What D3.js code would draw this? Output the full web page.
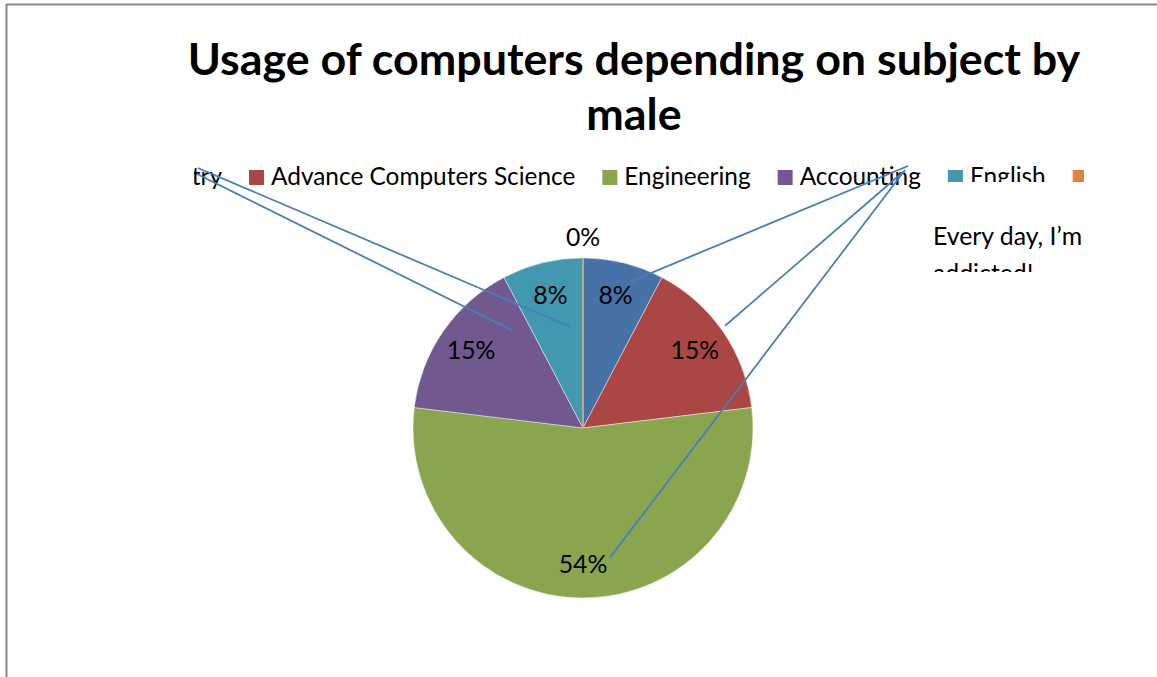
<!DOCTYPE html>
<html>
<head>
<meta charset="utf-8">
<script src="https://cdn.jsdelivr.net/npm/d3@7"></script>
<style>
  html, body { margin: 0; padding: 0; background: #fff; }
  svg { display: block; }
  text { font-family: Lato, "Open Sans", sans-serif; fill: #000; }
</style>
</head>
<body>
<svg id="chart" width="1157" height="677"></svg>
<script>
// Survey counts: how many male students use computers, by subject
const categories = ["Chemistry", "Advance Computers Science", "Engineering", "Accounting", "English", "Art"];
const counts = [1, 2, 7, 2, 1, 0];
const colors = ["#4672A7", "#AA4643", "#89A54E", "#71588F", "#4198AF", "#DB843D"];
const titleLines = ["Usage of computers depending on subject by", "male"];
const noteLines = ["Every day, I\u2019m", "addicted!"];

const W = 1157, H = 677;
const svg = d3.select("#chart");

// Layout
const cx = 583, cy = 428, R = 170;
const labelFont = 24.8, legendFont = 24.4, titleFont = 44.8;

// chart frame (top and left edges visible)
svg.append("line").attr("x1", 6).attr("x2", W).attr("y1", 4.5).attr("y2", 4.5)
  .attr("stroke", "#888").attr("stroke-width", 2);
svg.append("line").attr("x1", 6.5).attr("x2", 6.5).attr("y1", 4).attr("y2", H)
  .attr("stroke", "#888").attr("stroke-width", 2);

// title
svg.append("text")
  .attr("x", 634).attr("text-anchor", "middle")
  .attr("font-weight", "bold").attr("font-size", titleFont)
  .selectAll("tspan").data(titleLines).join("tspan")
  .attr("x", 634).attr("y", (d, i) => 75 + i * 55)
  .text(d => d);

// pie
const total = d3.sum(counts);
const pie = d3.pie().sort(null).value(d => d)(counts);
const arc = d3.arc().innerRadius(0).outerRadius(R);
const g = svg.append("g").attr("transform", `translate(${cx},${cy})`);

g.selectAll("path.slice").data(pie).join("path")
  .attr("class", "slice")
  .attr("d", arc)
  .attr("fill", (d, i) => colors[i])
  .attr("stroke", "rgba(255,255,255,0.55)")
  .attr("stroke-width", 0.8);

// zero-size slices show up as a hairline along their angle
const polar = (a, r) => [r * Math.sin(a), -r * Math.cos(a)];
g.selectAll("line.zero").data(pie.filter(d => d.value === 0)).join("line")
  .attr("class", "zero")
  .attr("x1", 0).attr("y1", 0)
  .attr("x2", d => polar(d.startAngle, R)[0])
  .attr("y2", d => polar(d.startAngle, R)[1])
  .attr("stroke", "#C99A6E").attr("stroke-width", 1.6);

// percentage labels
const labelArc = d3.arc().innerRadius(R * 0.8).outerRadius(R * 0.8);
g.selectAll("text.pct").data(pie).join("text")
  .attr("class", "pct")
  .attr("text-anchor", "middle")
  .attr("font-size", labelFont)
  .attr("x", d => d.value === 0 ? polar(d.startAngle, R * 1.12)[0] : labelArc.centroid(d)[0])
  .attr("y", d => (d.value === 0 ? polar(d.startAngle, R * 1.12)[1] : labelArc.centroid(d)[1]) + 8.5)
  .text(d => Math.round(d.value / total * 100) + "%");

// leader lines from displaced labels back to their slices
const leaderSlice = [0, 1, 2, 3, 4];
const leaderAngleFrac = [0.66, 0.48, 0.44, 0.85, 0.74];
const leaderRadiusFrac = [0.91, 1.03, 0.78, 0.71, 0.60];
const leaderEnds = [[908, 166], [903, 172], [905, 170], [197, 174], [198, 168]];
const leaders = leaderSlice.map((s, k) => {
  const p = pie[s];
  const a = p.startAngle + (p.endAngle - p.startAngle) * leaderAngleFrac[k];
  const [x, y] = polar(a, R * leaderRadiusFrac[k]);
  return { x1: cx + x, y1: cy + y, x2: leaderEnds[k][0], y2: leaderEnds[k][1] };
});

// legend (clipped to the legend box)
const defs = svg.append("defs");
defs.append("clipPath").attr("id", "legendClip")
  .append("polygon")
  .attr("points", "194,150 1084,150 1084,182 928,182 928,190 194,190");

const legend = svg.append("g").attr("clip-path", "url(#legendClip)");
const items = legend.selectAll("g.item").data(categories).join("g").attr("class", "item");
items.append("rect").attr("width", 15).attr("height", 15).attr("y", 170)
  .attr("fill", (d, i) => colors[i]);
items.append("text").attr("y", 185).attr("font-size", legendFont).text(d => d);

// lay out entries in a row: swatch, 7px gap, label, 27px gap
const widths = [];
items.select("text").each(function () { widths.push(this.getComputedTextLength()); });
let pos = 0;
const offsets = widths.map(w => { const o = pos; pos += 15 + 7 + w + 27; return o; });
const shift = 222 - (offsets[0] + 22 + widths[0]);
items.select("rect").attr("x", (d, i) => shift + offsets[i]);
items.select("text").attr("x", (d, i) => shift + offsets[i] + 22);

// series note text (clipped)
defs.append("clipPath").attr("id", "noteClip")
  .append("rect").attr("x", 900).attr("y", 200).attr("width", 257).attr("height", 72);
svg.append("text").attr("clip-path", "url(#noteClip)")
  .attr("font-size", labelFont)
  .selectAll("tspan").data(noteLines).join("tspan")
  .attr("x", 933).attr("y", (d, i) => 245 + i * 37)
  .text(d => d);

// draw leaders on top
svg.selectAll("line.leader").data(leaders).join("line")
  .attr("class", "leader")
  .attr("x1", d => d.x1).attr("y1", d => d.y1)
  .attr("x2", d => d.x2).attr("y2", d => d.y2)
  .attr("stroke", "#4A7EBB").attr("stroke-width", 1.8);
</script>
</body>
</html>
